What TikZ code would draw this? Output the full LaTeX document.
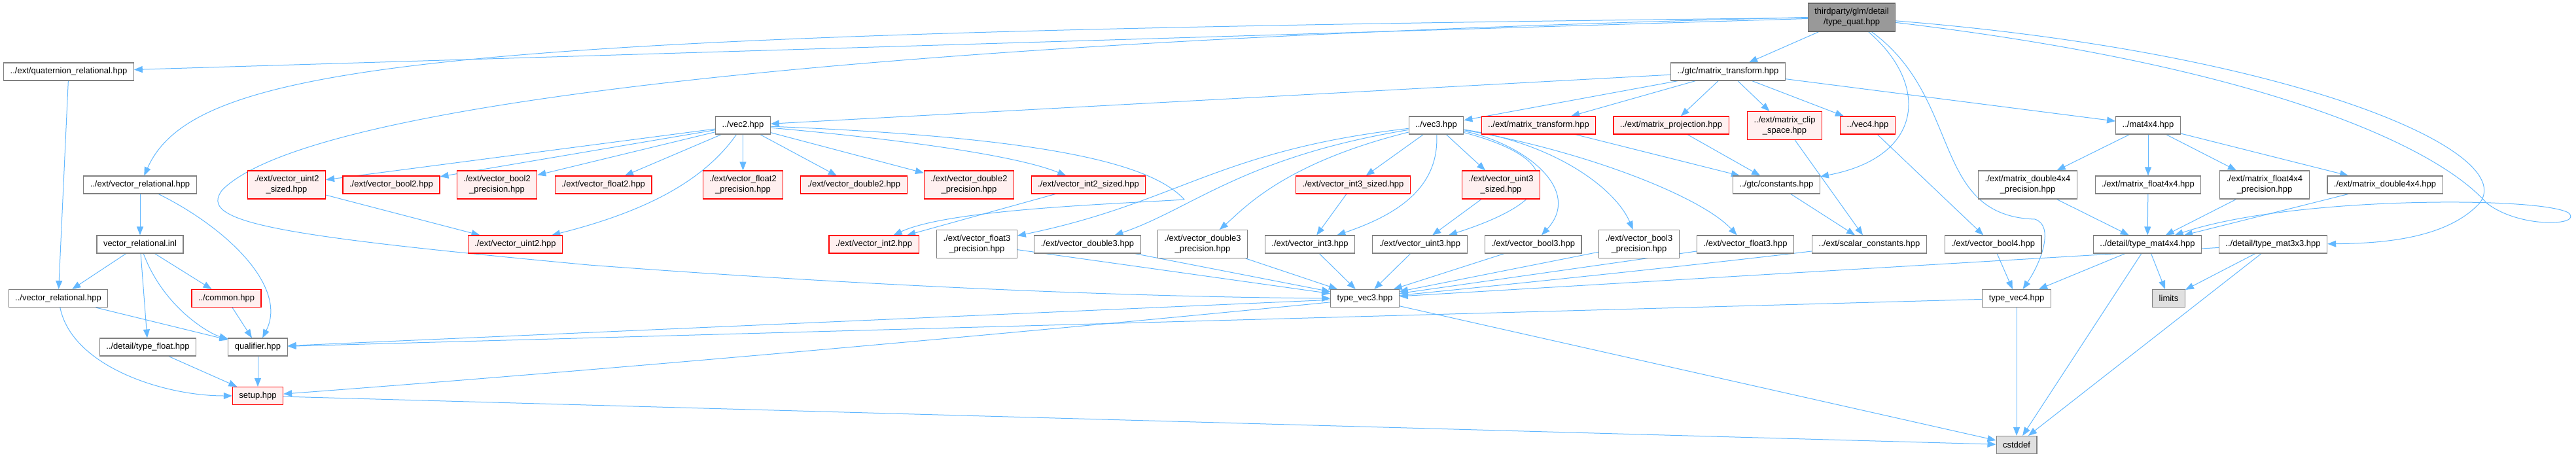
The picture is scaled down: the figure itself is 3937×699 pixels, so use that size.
\documentclass[tikz,border=0pt]{standalone}
\usepackage{fontspec}
\setmainfont{Liberation Sans}
\usetikzlibrary{arrows.meta,positioning,calc,backgrounds}
\definecolor{EdgeBlue}{HTML}{63B8FF}
\definecolor{BoxLine}{HTML}{808080}
\definecolor{RootFill}{HTML}{999999}
\definecolor{RootLine}{HTML}{666666}
\definecolor{TruncLine}{HTML}{FF0000}
\definecolor{TruncFill}{HTML}{FFF0F0}
\definecolor{SysFill}{HTML}{E0E0E0}
\tikzset{
  file/.style={draw=BoxLine, fill=white, line width=1.1pt, minimum height=27pt,
    inner xsep=10pt, inner ysep=3pt, align=center, font=\fontsize{13}{16}\selectfont},
  tall/.style={minimum height=43pt},
  trunc/.style={file, draw=TruncLine, fill=TruncFill},
  sys/.style={file, fill=SysFill},
  rootfile/.style={file, draw=RootLine, fill=RootFill},
  dep/.style={draw=EdgeBlue, line width=1pt, -{Triangle[length=13pt,width=10pt]}},
}

\begin{document}
\begin{tikzpicture}[x=1pt, y=-1pt]
  \useasboundingbox (0,0) rectangle (3937,699);

  % Top - the file itself and its direct includes
  \node[rootfile, tall] (root) at (2830,26.5) {thirdparty/glm/detail\\/type\_quat.hpp};
  \node[file] (quatrel) at (105,109.5) {../ext/quaternion\_relational.hpp};
  \node[file] (gtcmt) at (2641,109.5) {../gtc/matrix\_transform.hpp};

  % Row 2 - what matrix_transform pulls in
  \node[file] (vec2) at (1135.5,191.5) {../vec2.hpp};
  \node[file] (vec3) at (2195,191.5) {../vec3.hpp};
  \node[trunc] (extmt) at (2351.5,191.5) {../ext/matrix\_transform.hpp};
  \node[trunc] (extmp) at (2554,191.5) {../ext/matrix\_projection.hpp};
  \node[trunc, tall] (clip) at (2727.5,192) {../ext/matrix\_clip\\\_space.hpp};
  \node[trunc] (vec4) at (2854.5,191.5) {../vec4.hpp};
  \node[file] (mat4) at (3283,191.5) {../mat4x4.hpp};

  % Row 3 - ext headers
  \node[file] (extvrel) at (214,282.5) {../ext/vector\_relational.hpp};
  \node[trunc, tall] (uint2s) at (438,282.5) {./ext/vector\_uint2\\\_sized.hpp};
  \node[trunc] (bool2) at (598,282.5) {./ext/vector\_bool2.hpp};
  \node[trunc, tall] (bool2p) at (759.5,282.5) {./ext/vector\_bool2\\\_precision.hpp};
  \node[trunc] (float2) at (922,282.5) {./ext/vector\_float2.hpp};
  \node[trunc, tall] (float2p) at (1135.5,282.5) {./ext/vector\_float2\\\_precision.hpp};
  \node[trunc] (double2) at (1305,282.5) {./ext/vector\_double2.hpp};
  \node[trunc, tall] (double2p) at (1481,282.5) {./ext/vector\_double2\\\_precision.hpp};
  \node[trunc] (int2s) at (1663.5,282.5) {./ext/vector\_int2\_sized.hpp};
  \node[trunc] (int3s) at (2068,282.5) {./ext/vector\_int3\_sized.hpp};
  \node[trunc, tall] (uint3s) at (2294,282.5) {./ext/vector\_uint3\\\_sized.hpp};
  \node[file] (gconst) at (2715,282.5) {../gtc/constants.hpp};
  \node[file, tall] (m44dp) at (3099,282.5) {./ext/matrix\_double4x4\\\_precision.hpp};
  \node[file] (m44f) at (3283,282.5) {./ext/matrix\_float4x4.hpp};
  \node[file, tall] (m44fp) at (3461,282.5) {./ext/matrix\_float4x4\\\_precision.hpp};
  \node[file] (m44d) at (3645,282.5) {./ext/matrix\_double4x4.hpp};

  % Row 4
  \node[file] (vrelinl) at (214,373.5) {vector\_relational.inl};
  \node[trunc] (uint2) at (787.5,373.5) {./ext/vector\_uint2.hpp};
  \node[trunc] (int2) at (1335.5,373.5) {./ext/vector\_int2.hpp};
  \node[file, tall] (float3p) at (1493,373) {./ext/vector\_float3\\\_precision.hpp};
  \node[file] (double3) at (1662,373.5) {./ext/vector\_double3.hpp};
  \node[file, tall] (double3p) at (1838,373) {./ext/vector\_double3\\\_precision.hpp};
  \node[file] (int3) at (2002,373.5) {./ext/vector\_int3.hpp};
  \node[file] (uint3) at (2170,373.5) {./ext/vector\_uint3.hpp};
  \node[file] (bool3) at (2343,373.5) {./ext/vector\_bool3.hpp};
  \node[file, tall] (bool3p) at (2505,373) {./ext/vector\_bool3\\\_precision.hpp};
  \node[file] (float3) at (2667.5,373.5) {./ext/vector\_float3.hpp};
  \node[file] (scalc) at (2857,373.5) {../ext/scalar\_constants.hpp};
  \node[file] (bool4) at (3046,373.5) {./ext/vector\_bool4.hpp};
  \node[file] (tmat4) at (3282,373.5) {../detail/type\_mat4x4.hpp};
  \node[file] (tmat3) at (3474,373.5) {../detail/type\_mat3x3.hpp};

  % Bottom rows
  \node[file] (vrel) at (89,456) {../vector\_relational.hpp};
  \node[trunc] (common) at (346,456) {../common.hpp};
  \node[file] (tvec3) at (2086,456) {type\_vec3.hpp};
  \node[file] (tvec4) at (3082,456) {type\_vec4.hpp};
  \node[sys] (limits) at (3314.5,456) {limits};
  \node[file] (tfloat) at (226,530.5) {../detail/type\_float.hpp};
  \node[file] (qual) at (394,530.5) {qualifier.hpp};
  \node[trunc] (setup) at (394,605) {setup.hpp};
  \node[sys] (cstddef) at (3082,680) {cstddef};

  \begin{scope}[on background layer]
  % straight includes
  \foreach \a/\b in {root/quatrel, root/gtcmt, gtcmt/vec2, gtcmt/vec3, gtcmt/extmt,
      gtcmt/extmp, gtcmt/clip, gtcmt/vec4, gtcmt/mat4,
      vec2/uint2s, vec2/bool2, vec2/bool2p, vec2/float2, vec2/float2p, vec2/double2,
      vec2/double2p, uint2s/uint2, int2s/int2,
      vec3/int3s, vec3/uint3s, int3s/int3, uint3s/uint3,
      int3/tvec3, uint3/tvec3, bool3/tvec3, bool3p/tvec3, float3/tvec3, float3p/tvec3,
      double3/tvec3, double3p/tvec3, tmat3/tvec3,
      extmt/gconst, extmp/gconst, gconst/scalc, clip/scalc, vec4/bool4, bool4/tvec4,
      mat4/m44dp, mat4/m44f, mat4/m44fp, mat4/m44d,
      m44dp/tmat4, m44f/tmat4, m44fp/tmat4, m44d/tmat4,
      tmat4/tvec4, tmat4/cstddef, tmat4/limits, tmat3/limits, tmat3/cstddef,
      tvec4/cstddef, tvec3/cstddef, tvec3/qual, tvec4/qual, setup/cstddef,
      quatrel/vrel, extvrel/vrelinl, vrelinl/vrel, vrelinl/tfloat, vrelinl/common,
      vrel/qual, common/qual, tfloat/setup, qual/setup} {
    \draw[dep] (\a) -- (\b);
  }
  \draw[dep] (vec2) .. controls (1400,215) and (1560,240) .. (int2s);

  % curved includes from the root
  \draw[dep] (root) .. controls (700,50) and (300,90) .. (extvrel);
  \draw[dep] (root.west) .. controls (1400,60) and (480,150) .. (340,290)
    .. controls (300,340) and (420,360) .. (900,405)
    .. controls (1500,450) and (1900,455) .. (tvec3.west);
  \draw[dep] (root) .. controls (2950,130) and (2940,240) .. (gconst);
  \draw[dep] (root) .. controls (3000,150) and (2950,330) .. (3110,335)
    .. controls (3140,345) and (3120,400) .. (tvec4);
  \draw[dep] (root) .. controls (3500,80) and (3850,230) .. (3790,310)
    .. controls (3740,365) and (3640,372) .. (tmat3);
  \draw[dep] (root) .. controls (3450,100) and (3720,220) .. (3800,310)
    .. controls (3850,350) and (3950,345) .. (3925,325)
    .. controls (3880,300) and (3500,300) .. (tmat4);

  % curved includes from vec2 / vec3
  \draw[dep] (vec2) .. controls (1080,270) and (1000,320) .. (uint2);
  \draw[dep] (vec2) .. controls (1600,210) and (1760,250) .. (1810,305)
    .. controls (1700,312) and (1450,320) .. (int2);
  \draw[dep] (vec3) .. controls (2200,290) and (2130,330) .. (int3);
  \draw[dep] (vec3) .. controls (2380,240) and (2400,300) .. (uint3);
  \draw[dep] (vec3) .. controls (2330,220) and (2420,290) .. (bool3);
  \draw[dep] (vec3) .. controls (2380,220) and (2470,290) .. (bool3p);
  \draw[dep] (vec3) .. controls (2420,230) and (2600,300) .. (float3);
  \draw[dep] (vec3) .. controls (1860,230) and (1800,310) .. (float3p);
  \draw[dep] (vec3) .. controls (1900,240) and (1820,320) .. (double3);
  \draw[dep] (vec3) .. controls (1960,250) and (1900,320) .. (double3p);

  % long ones at the bottom left
  \draw[dep] (scalc) .. controls (2300,440) and (1200,545) .. (setup);
  \draw[dep] (extvrel) .. controls (350,350) and (440,440) .. (qual);
  \draw[dep] (vrelinl) .. controls (250,470) and (320,510) .. (qual);
  \draw[dep] (vrel) .. controls (110,560) and (250,605) .. (setup);
  \end{scope}
\end{tikzpicture}
\end{document}
